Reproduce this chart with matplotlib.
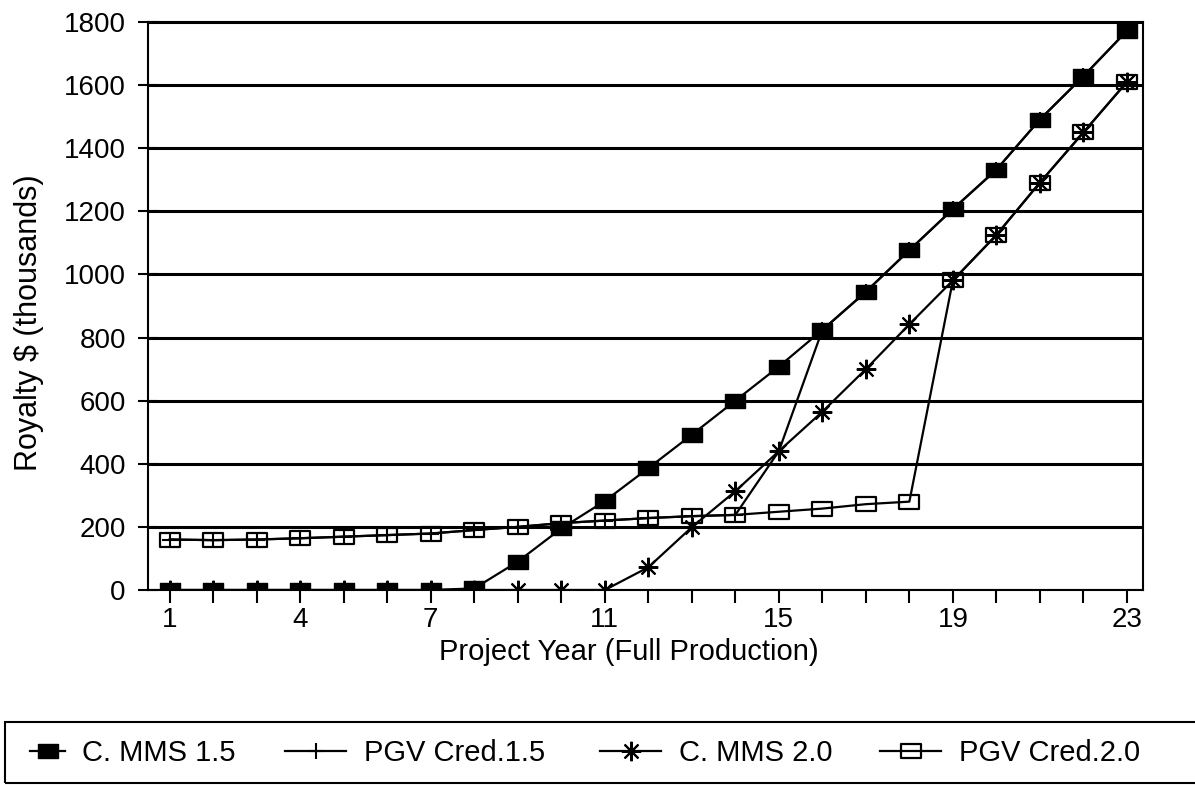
import matplotlib
matplotlib.use("Agg")
import matplotlib.pyplot as plt
from matplotlib.patches import Rectangle
from matplotlib.path import Path

plt.rcParams['font.family'] = ['Liberation Sans', 'DejaVu Sans']

years = list(range(1, 24))
c_mms_15 = [0, 0, 0, 0, 0, 0, 0, 5, 90, 195, 282, 386, 492, 600, 708, 824,
            945, 1077, 1207, 1332, 1491, 1628, 1772]
pgv_cred_15 = [160, 158, 160, 164, 169, 174, 179, 190, 200, 212, 220, 228, 234, 238,
               440, 824, 945, 1077, 1207, 1332, 1491, 1628, 1772]
c_mms_20 = [0, 0, 0, 0, 0, 0, 0, 0, 0, 0, 0, 72, 199, 313, 440, 565,
            700, 842, 981, 1125, 1291, 1450, 1610]
pgv_cred_20 = [160, 158, 160, 164, 169, 174, 179, 190, 200, 212, 220, 228, 234, 238,
               248, 258, 272, 280, 981, 1125, 1291, 1450, 1610]

series_names = ["C. MMS 1.5", "PGV Cred.1.5", "C. MMS 2.0", "PGV Cred.2.0"]
xtick_years = [1, 4, 7, 11, 15, 19, 23]
ytick_values = list(range(0, 1801, 200))

W, H = 1195, 785
fig = plt.figure(figsize=(W / 100, H / 100), dpi=100)
ax = fig.add_axes([148 / W, 1 - 590 / H, (1143 - 148) / W, (590 - 22) / H])

# wide rectangle marker (scanned markers are wider than tall)
rect_marker = Path([(-1.3, -1), (1.3, -1), (1.3, 1), (-1.3, 1), (-1.3, -1)],
                   [Path.MOVETO, Path.LINETO, Path.LINETO, Path.LINETO, Path.CLOSEPOLY])
asterisk = (8, 2, 0)

l4, = ax.plot(years, pgv_cred_20, color='black', lw=1.6, marker=rect_marker, ms=14,
              mfc='none', mec='black', mew=1.6, zorder=3)
l3, = ax.plot(years, c_mms_20, color='black', lw=1.6, marker=asterisk, ms=14,
              mec='black', mew=1.5, zorder=4)
l2, = ax.plot(years, pgv_cred_15, color='black', lw=1.6, marker='+', ms=12,
              mec='black', mew=1.5, zorder=5)
l1, = ax.plot(years, c_mms_15, color='black', lw=1.6, marker=rect_marker, ms=14,
              mfc='black', mec='black', zorder=6)

ax.set_xlim(0.5, 23.37)
ax.set_ylim(0, 1800)
ax.set_yticks(ytick_values)
ax.set_xticks(xtick_years)
ax.set_xticks(years, minor=True)
ax.yaxis.grid(True, color='black', lw=2.2)
ax.set_axisbelow(True)
for s in ax.spines.values():
    s.set_color('black')
    s.set_linewidth(1.5)

ax.tick_params(axis='y', direction='inout', length=14, width=1.5, labelsize=20, pad=9)
ax.tick_params(axis='x', which='both', direction='out', length=9, width=1.5,
               labelsize=20, pad=3)

ax.set_xlabel("Project Year (Full Production)", fontsize=21)
ax.xaxis.set_label_coords(0.483, -0.085)
ax.set_ylabel("Royalty $ (thousands)", fontsize=22)
ax.yaxis.set_label_coords(-0.105, 0.47)

# legend box (runs off the right edge as in the scan)
rect = Rectangle((5 / W, 2 / H), 1.2, (783 - 722) / H, transform=fig.transFigure,
                 fill=False, edgecolor='black', lw=1.5, clip_on=False)
fig.patches.append(rect)

legend_y = 1 - 753 / H
entries = [(l1, series_names[0], 30, 1.2),
           (l2, series_names[1], 285, 2.1),
           (l3, series_names[2], 600, 2.1),
           (l4, series_names[3], 880, 2.1)]
for handle, name, x_px, hl in entries:
    leg = fig.legend([handle], [name], loc='center left',
                     bbox_to_anchor=(x_px / W, legend_y), frameon=False, fontsize=21,
                     handlelength=hl, handletextpad=0.6, borderpad=0, borderaxespad=0)

fig.savefig("out.png", dpi=100)
